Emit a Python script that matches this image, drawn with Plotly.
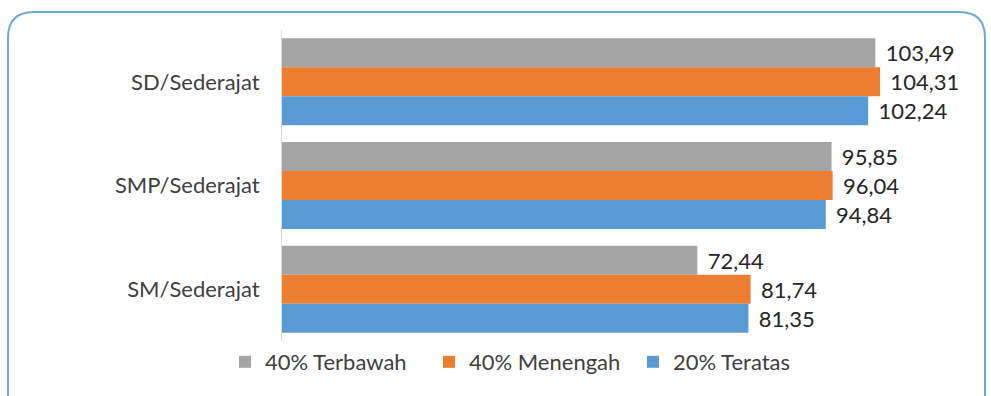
import plotly.graph_objects as go

categories = ["SD/Sederajat", "SMP/Sederajat", "SM/Sederajat"]
series_names = ["40% Terbawah", "40% Menengah", "20% Teratas"]
bottom40 = [103.49, 95.85, 72.44]
middle40 = [104.31, 96.04, 81.74]
top20 = [102.24, 94.84, 81.35]
colors = ["#A5A5A5", "#ED7D31", "#5B9BD5"]

W, H = 991, 396
# plot area in pixels
PX0, PX1 = 282, 970
PY0, PY1 = 30, 341
X_MAX = 120


def paper_x(px):
    return (px - PX0) / (PX1 - PX0)


def paper_y(py):
    return (PY1 - py) / (PY1 - PY0)


fig = go.Figure()
for name, vals, col in zip(series_names, [bottom40, middle40, top20], colors):
    fig.add_trace(go.Bar(
        y=categories, x=vals, name=name, orientation="h",
        marker=dict(color=col, line=dict(width=0)),
        # a narrow space keeps the value labels a little away from the bar ends
        texttemplate="\u2004%{x:.2f}", textposition="outside",
        textfont=dict(size=22, color="#262626", family="Lato"),
        cliponaxis=False,
    ))

# rounded frame around the chart
bx0, bx1, by0, by1, r = 8, 985, 12, 420, 26
path = (
    f"M {paper_x(bx0)},{paper_y(by1)} "
    f"L {paper_x(bx0)},{paper_y(by0 + r)} "
    f"Q {paper_x(bx0)},{paper_y(by0)} {paper_x(bx0 + r)},{paper_y(by0)} "
    f"L {paper_x(bx1 - r)},{paper_y(by0)} "
    f"Q {paper_x(bx1)},{paper_y(by0)} {paper_x(bx1)},{paper_y(by0 + r)} "
    f"L {paper_x(bx1)},{paper_y(by1)}"
)
fig.add_shape(type="path", path=path, xref="paper", yref="paper",
              line=dict(color="#6FA8DC", width=2), layer="below")

fig.update_layout(
    width=W, height=H,
    margin=dict(l=PX0, r=W - PX1, t=PY0, b=H - PY1),
    paper_bgcolor="white", plot_bgcolor="white",
    barmode="group", bargap=0.16, bargroupgap=0,
    separators=",.",
    font=dict(family="Lato", color="#404040"),
    xaxis=dict(range=[0, X_MAX], visible=False, fixedrange=True),
    yaxis=dict(autorange="reversed", showgrid=False, ticks="",
               showline=True, linecolor="#D9D9D9", linewidth=1,
               tickfont=dict(size=22, color="#404040", family="Lato"),
               ticklabelstandoff=17),
    legend=dict(orientation="h", x=paper_x(225), xanchor="left",
                y=paper_y(341), yanchor="top",
                font=dict(size=22, color="#404040", family="Lato"),
                itemwidth=30, tracegroupgap=0,
                entrywidth=159, entrywidthmode="pixels"),
    showlegend=True,
)

fig.write_html("out.html")
